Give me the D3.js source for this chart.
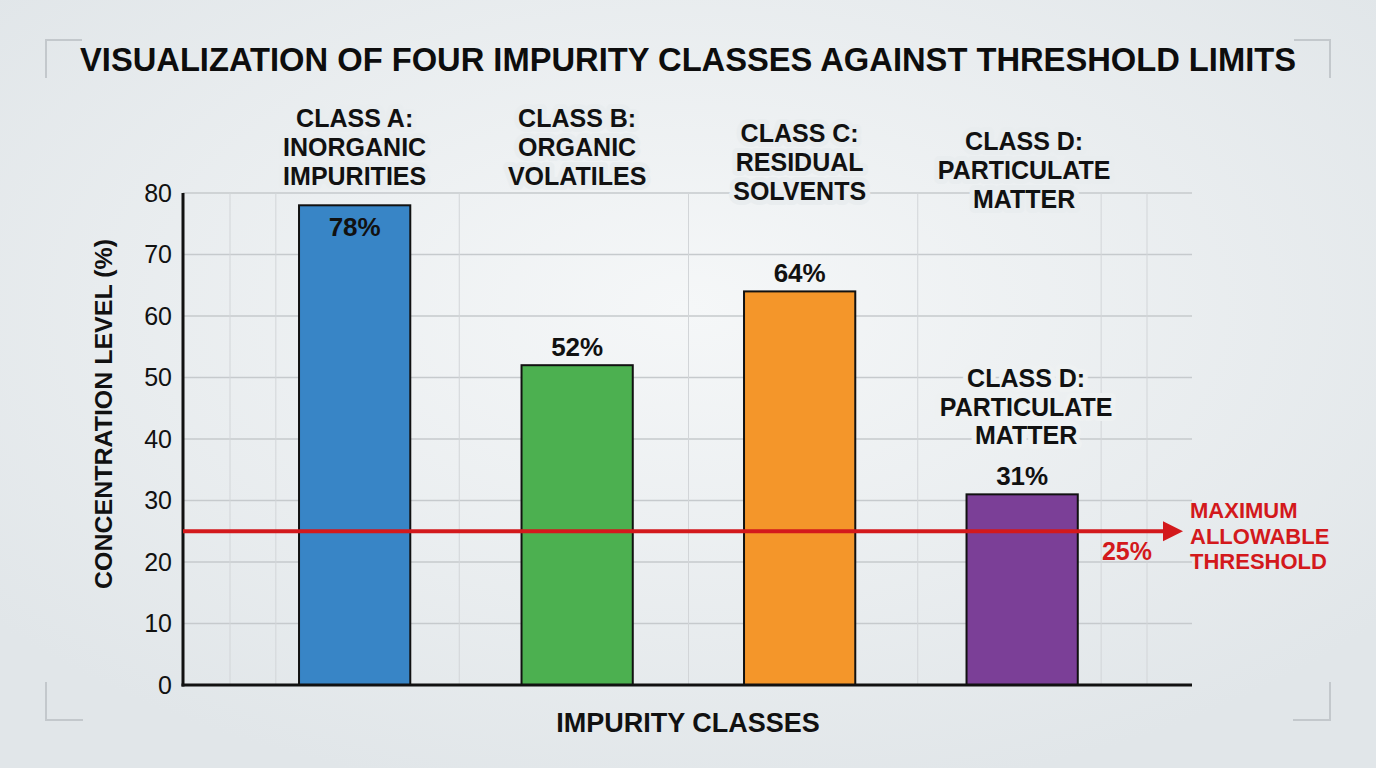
<!DOCTYPE html>
<html><head><meta charset="utf-8">
<script src="https://cdn.jsdelivr.net/npm/d3@7"></script>
<style>
html,body{margin:0;padding:0;background:#e6eaed;}
svg{display:block;font-family:"Liberation Sans",Arial,Helvetica,sans-serif;}
</style></head>
<body>
<svg id="chart" width="1376" height="768"></svg>
<script>
// ---- data ----
const categories = ["Class A", "Class B", "Class C", "Class D"];
const categoryLabels = [
  ["CLASS A:", "INORGANIC", "IMPURITIES"],
  ["CLASS B:", "ORGANIC", "VOLATILES"],
  ["CLASS C:", "RESIDUAL", "SOLVENTS"],
  ["CLASS D:", "PARTICULATE", "MATTER"]
];
const values = [78, 52, 64, 31];
const valueLabels = ["78%", "52%", "64%", "31%"];
const barColors = ["#3885c6", "#4cb050", "#f4962a", "#7b3f97"];
const threshold = 25;
const thresholdLabel = ["MAXIMUM", "ALLOWABLE", "THRESHOLD"];
const yTicks = [0, 10, 20, 30, 40, 50, 60, 70, 80];
const titleText = "VISUALIZATION OF FOUR IMPURITY CLASSES AGAINST THRESHOLD LIMITS";
const yTitle = "CONCENTRATION LEVEL (%)";
const xTitle = "IMPURITY CLASSES";

// ---- layout ----
const W = 1376, H = 768;
const plot = {left: 183, right: 1192, top: 193, bottom: 685};
const svg = d3.select("#chart");
const bg = "#e9edef";

const defs = svg.append("defs");
const rg = defs.append("radialGradient").attr("id", "bg").attr("cx", "50%").attr("cy", "40%").attr("r", "65%");
rg.append("stop").attr("offset", "0%").attr("stop-color", "#f5f7f8");
rg.append("stop").attr("offset", "100%").attr("stop-color", "#e1e6e9");
svg.append("rect").attr("width", W).attr("height", H).attr("fill", "url(#bg)");

const y = d3.scaleLinear().domain([0, 80]).range([plot.bottom, plot.top]);
const x = d3.scaleBand().domain(categories).range([243.4, 1133.4]).paddingInner(0.5).paddingOuter(0.25);
const gx = d3.scaleLinear().domain([0, 4]).range([230, 1147]);

// corner brackets
const cornerColor = "#c3c8cc";
const corners = [
  [[46, 78], [46, 40], [82, 40]],
  [[1294, 40], [1330, 40], [1330, 78]],
  [[46, 682], [46, 720], [83, 720]],
  [[1293, 720], [1330, 720], [1330, 682]]
];
svg.append("g").selectAll("path").data(corners).join("path")
  .attr("d", d => d3.line()(d)).attr("fill", "none")
  .attr("stroke", cornerColor).attr("stroke-width", 2);

// grid
const grid = svg.append("g");
grid.selectAll("line.h").data(yTicks.filter(t => t > 0)).join("line")
  .attr("x1", plot.left).attr("x2", plot.right)
  .attr("y1", d => y(d)).attr("y2", d => y(d))
  .attr("stroke", "#c6cacd").attr("stroke-width", 1.5);
const vGrid = [0, 0.2, 1, 2, 3, 3.8, 4];
grid.selectAll("line.v").data(vGrid).join("line")
  .attr("x1", d => gx(d)).attr("x2", d => gx(d))
  .attr("y1", plot.top).attr("y2", plot.bottom)
  .attr("stroke", "#d2d5d8").attr("stroke-width", 1);

// bars
svg.append("g").selectAll("rect").data(values).join("rect")
  .attr("x", (d, i) => x(categories[i]))
  .attr("width", x.bandwidth())
  .attr("y", d => y(d))
  .attr("height", d => y(0) - y(d))
  .attr("fill", (d, i) => barColors[i])
  .attr("stroke", "#111").attr("stroke-width", 2);

// value labels
svg.append("g").selectAll("text").data(values).join("text")
  .attr("x", (d, i) => x(categories[i]) + x.bandwidth() / 2)
  .attr("y", (d, i) => i === 0 ? y(d) + 31 : y(d) - 9)
  .attr("text-anchor", "middle")
  .attr("font-size", 26).attr("font-weight", "bold").attr("fill", "#111")
  .text((d, i) => valueLabels[i]);

// category labels (top)
const topOffsets = [118, 118, 133, 141];
const catG = svg.append("g");
categoryLabels.forEach((lines, i) => {
  const cx = x(categories[i]) + x.bandwidth() / 2 + (i === 3 ? 2 : 0);
  const t = catG.append("text")
    .attr("text-anchor", "middle").attr("font-size", 25).attr("font-weight", "bold")
    .attr("fill", "#111").attr("stroke", bg).attr("stroke-width", 10)
    .attr("paint-order", "stroke").attr("stroke-linejoin", "round");
  lines.forEach((ln, j) => {
    t.append("tspan").attr("x", cx).attr("y", topOffsets[i] + j * 29 + 9).text(ln);
  });
});

// repeated Class D label above bar D
{
  const i = 3;
  const cx = x(categories[i]) + x.bandwidth() / 2 + 4;
  const t = svg.append("text")
    .attr("text-anchor", "middle").attr("font-size", 25).attr("font-weight", "bold")
    .attr("fill", "#111").attr("stroke", "#eef1f2").attr("stroke-width", 10)
    .attr("paint-order", "stroke").attr("stroke-linejoin", "round");
  categoryLabels[i].forEach((ln, j) => {
    t.append("tspan").attr("x", cx).attr("y", 378 + j * 28.5 + 9).text(ln);
  });
}

// axes
const yAxis = d3.axisLeft(y).tickValues(yTicks).tickSize(0).tickPadding(11);
const yG = svg.append("g").attr("transform", `translate(${plot.left},0)`).call(yAxis);
yG.select(".domain").remove();
yG.selectAll("text").attr("font-size", 25).attr("fill", "#111")
  .attr("font-family", "'Liberation Sans',Arial,sans-serif");

svg.append("line").attr("x1", plot.left).attr("x2", plot.left)
  .attr("y1", plot.top).attr("y2", plot.bottom + 1.5)
  .attr("stroke", "#111").attr("stroke-width", 3);
svg.append("line").attr("x1", plot.left - 1.5).attr("x2", plot.right)
  .attr("y1", plot.bottom).attr("y2", plot.bottom)
  .attr("stroke", "#111").attr("stroke-width", 3);

// threshold
const red = "#d3191c";
const ty = y(threshold);
svg.append("line").attr("x1", plot.left).attr("x2", 1166)
  .attr("y1", ty).attr("y2", ty).attr("stroke", red).attr("stroke-width", 4);
svg.append("path")
  .attr("d", d3.line()([[1163, ty - 10], [1183, ty], [1163, ty + 10]]) + "Z")
  .attr("fill", red);
svg.append("text").attr("x", 1127).attr("y", ty + 29).attr("text-anchor", "middle")
  .attr("font-size", 25).attr("font-weight", "bold").attr("fill", red).text(threshold + "%");
const tl = svg.append("text").attr("font-size", 22).attr("font-weight", "bold").attr("fill", red);
thresholdLabel.forEach((ln, j) => {
  tl.append("tspan").attr("x", 1190).attr("y", 518 + j * 25.5).text(ln);
});

// titles
svg.append("text").attr("x", 688).attr("y", 71).attr("text-anchor", "middle")
  .attr("font-size", 32.5).attr("font-weight", "bold").attr("fill", "#0d0d0d")
  .attr("textLength", 1216).attr("lengthAdjust", "spacingAndGlyphs")
  .text(titleText);
svg.append("text").attr("transform", `translate(112,414) rotate(-90)`)
  .attr("text-anchor", "middle").attr("font-size", 24.5).attr("font-weight", "bold").attr("fill", "#111")
  .attr("textLength", 350).attr("lengthAdjust", "spacingAndGlyphs")
  .text(yTitle);
svg.append("text").attr("x", 688).attr("y", 732).attr("text-anchor", "middle")
  .attr("font-size", 27).attr("font-weight", "bold").attr("fill", "#111").text(xTitle);
</script>
</body></html>
